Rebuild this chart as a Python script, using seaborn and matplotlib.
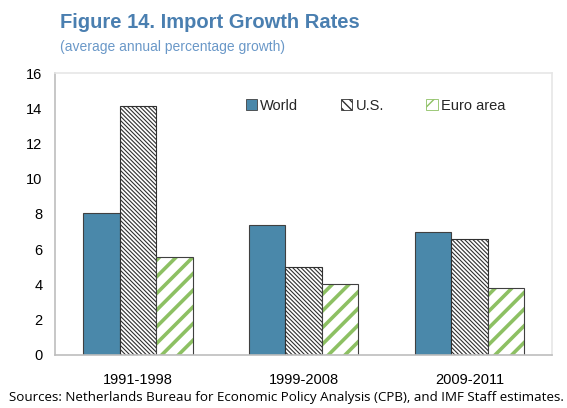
import matplotlib
matplotlib.use("Agg")
import matplotlib.pyplot as plt
from matplotlib.patches import Rectangle
import seaborn as sns
import pandas as pd

# values
periods = ['1991-1998', '1999-2008', '2009-2011']
series = ['World', 'U.S.', 'Euro area']
world = [8.05, 7.35, 6.95]
us = [14.15, 5.0, 6.6]
euro = [5.55, 4.05, 3.8]

yticks = [0, 2, 4, 6, 8, 10, 12, 14, 16]

df = pd.DataFrame({
    'period': periods * 3,
    'series': [s for s in series for _ in periods],
    'value': world + us + euro,
})

sns.set_style('white')
plt.rcParams['font.family'] = ['Liberation Sans', 'DejaVu Sans']
plt.rcParams['hatch.linewidth'] = 1.0

fig = plt.figure(figsize=(5.67, 4.08), dpi=100)
ax = fig.add_axes([0.097, 0.130, 0.877, 0.691])

colors = {'World': '#4a88aa', 'U.S.': 'white', 'Euro area': 'white'}
sns.barplot(data=df, x='period', y='value', hue='series', palette=colors,
            width=0.66, edgecolor='#404040', linewidth=0.8, ax=ax,
            saturation=1, legend=False)

for cont, s in zip(ax.containers, series):
    for p in cont.patches:
        if s == 'U.S.':
            p.set_hatch('\\\\\\\\\\\\\\\\')
            p.set_edgecolor('#303030')
            if hasattr(p, 'set_hatch_linewidth'):
                p.set_hatch_linewidth(0.8)
        elif s == 'Euro area':
            p.set_hatch('//')
            p.set_edgecolor('#8dc063')
            p.set_linewidth(0)
            if hasattr(p, 'set_hatch_linewidth'):
                p.set_hatch_linewidth(2.6)
            x, y = p.get_xy()
            ax.add_patch(Rectangle((x, y), p.get_width(), p.get_height(),
                                   fill=False, edgecolor='#404040', linewidth=0.8))

ax.set_ylim(0, 16)
ax.set_yticks(yticks)
ax.set_xlim(-0.5, 2.5)
ax.set_xticks([0, 1, 2])
ax.set_xticklabels(periods)
ax.set_xlabel('')
ax.set_ylabel('')
ax.tick_params(axis='both', labelsize=10.5, colors='black', length=0)
ax.tick_params(axis='x', pad=13)
ax.tick_params(axis='y', pad=4)
# tick marks between categories on the x axis, outward on the y axis
ax.set_xticks([0.5, 1.5], minor=True)
ax.tick_params(axis='x', which='minor', length=5, color='#d0d0d0', direction='out')
ax.tick_params(axis='y', length=5, color='#d0d0d0', direction='out')

for side in ['left', 'bottom']:
    ax.spines[side].set_color('#bdbdbd')
    ax.spines[side].set_linewidth(1.2)
for side in ['top', 'right']:
    ax.spines[side].set_color('#e6e6e6')
    ax.spines[side].set_linewidth(1.2)

# legend
handles = [
    Rectangle((0, 0), 1, 1, facecolor=colors['World'], edgecolor='#404040', linewidth=0.6),
    Rectangle((0, 0), 1, 1, facecolor='white', edgecolor='#303030', hatch='\\\\\\\\', linewidth=0.6),
    Rectangle((0, 0), 1, 1, facecolor='white', edgecolor='#8dc063', hatch='//', linewidth=0.6),
]
ax.legend(handles, series, loc='upper left', bbox_to_anchor=(0.372, 0.93), ncol=3,
          frameon=False, fontsize=10.5, handlelength=0.8, handleheight=0.8,
          handletextpad=0.2, columnspacing=2.9, borderaxespad=0)

fig.text(0.106, 0.945, 'Figure 14. Import Growth Rates', fontsize=14.5,
         fontweight='bold', color='#4a7fb0', ha='left', va='center')
fig.text(0.106, 0.885, '(average annual percentage growth)', fontsize=10,
         color='#6a98c8', ha='left', va='center')
fig.text(0.505, 0.025, 'Sources: Netherlands Bureau for Economic Policy Analysis (CPB), and IMF Staff estimates.',
         fontsize=9.6, color='black', ha='center', va='center',
         family=['Open Sans', 'DejaVu Sans'])

fig.savefig('out.png', dpi=100)
